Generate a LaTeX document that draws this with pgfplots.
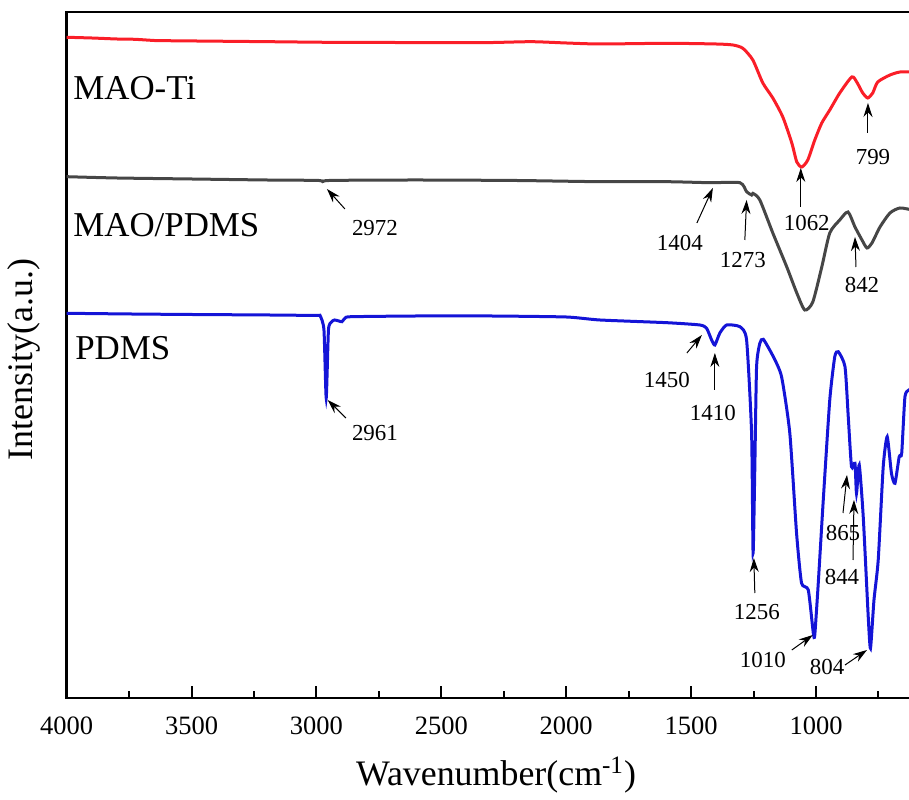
\documentclass[border=0pt]{standalone}
\usepackage{fontspec}
\setmainfont{Liberation Serif}
\usepackage{pgfplots}
\usepackage{pgfplotstable}
\pgfplotsset{compat=1.18}
\usetikzlibrary{arrows.meta}
\definecolor{cred}{RGB}{250,30,40}
\definecolor{cgray}{RGB}{70,70,70}
\definecolor{cblue}{RGB}{20,20,215}

\pgfplotstableread{
w y
4000 762.7
3900 762
3800 761
3728 760.7
3650 759.5
3606 759.3
3400 758.8
3190 758.3
2958 757.7
2700 757.5
2342 757.3
2141 758.3
2000 757
1865 756
1597 756.7
1400 756
1333 755
1293 751.7
1253 740
1213 717
1173 702
1133 683
1097 657
1077 638
1057 633
1033 640
1005 660
977 677
945 690
905 707
857 723
837 718
813 707
793 702
773 707
753 718
704 725
664 728
615 728
}\maoti

\pgfplotstableread{
w y
4000 623.3
3800 622
3500 621
3200 620
2990 619.5
2972 617.3
2950 619.5
2600 620
2200 619.5
1865 618.3
1597 618.3
1425 617.3
1305 617.3
1278 608.3
1258 605
1253 606.7
1225 600
1173 567
1117 533
1077 507
1045 490
1013 498
977 533
945 567
905 580
872 588
844 573
816 560
796 552
776 557
744 573
704 587
664 592
615 590
}\maopdms

\pgfplotstableread{
w y
4000 486.7
3743 486
3500 485.5
3190 485
3000 484.5
2985 484
2970 470
2961 402
2952 470
2940 478
2928 480
2910 479
2898 478.3
2885 482
2860 483.3
2600 484
2300 484
2000 483
1865 480
1597 477.3
1465 475
1438 471.7
1418 460
1405 455
1385 467
1358 475
1305 473.3
1278 460
1258 367
1252 247
1245 333
1238 433.3
1225 456.7
1211 460.7
1171 443.3
1138 423.3
1105 367
1078 267
1058 217
1031 210
1011 167
1005 165
991 217
971 300
945 400
925 443.3
911 448.3
884 433.3
871 383.3
858 333.3
844 336.7
838 306.7
827 335
811 283.3
791 183.3
782 151.7
768 200
751 240
731 333.3
715 363.3
698 326.7
684 316.7
667 343.3
657 346.7
644 403.3
628 410
615 412
}\pdms

\begin{document}
\begin{tikzpicture}
\begin{axis}[name=ax, anchor=south west, at={(0,0)},
  scale only axis, width=422.75bp, height=342.85bp,
  x dir=reverse, xmin=615, xmax=4000, ymin=102, ymax=787.7,
  ytick=\empty,
  xtick={1000,1500,2000,2500,3000,3500,4000},
  minor xtick={750,1250,1750,2250,2750,3250,3750},
  xtick pos=lower, tick align=inside,
  major tick length=6bp, minor tick length=3.3bp,
  every tick/.style={black, line width=1bp},
  axis line style={line width=1.2bp, black},
  /pgf/number format/assume math mode=true,
  /pgf/number format/1000 sep={},
  xticklabel style={font=\fontsize{13.3}{16}\selectfont, yshift=-6bp},
  clip=true,
]
\addplot[cred, line width=1.5bp, smooth, tension=0.4] table[x=w,y=y] {\maoti};
\addplot[cgray, line width=1.5bp, smooth, tension=0.4] table[x=w,y=y] {\maopdms};
\addplot[cblue, line width=1.5bp, smooth, tension=0.35] table[x=w,y=y] {\pdms};

\begin{scope}[font=\fontsize{17.5}{20}\selectfont]
\node[anchor=base west, inner sep=0] at (axis cs:3975,700) {MAO-Ti};
\node[anchor=base west, inner sep=0] at (axis cs:3975,563) {MAO/PDMS};
\node[anchor=base west, inner sep=0] at (axis cs:3967,440) {PDMS};
\end{scope}

\begin{scope}[font=\fontsize{11.5}{13}\selectfont, inner sep=0]
\node at (axis cs:2766,572) {2972};
\node at (axis cs:2766,367) {2961};
\node at (axis cs:1545,557) {1404};
\node at (axis cs:1293,540) {1273};
\node at (axis cs:1037,577) {1062};
\node at (axis cs:772,643) {799};
\node at (axis cs:816,515) {842};
\node at (axis cs:1597,420) {1450};
\node at (axis cs:1413,387) {1410};
\node at (axis cs:1237,188) {1256};
\node at (axis cs:892,267) {865};
\node at (axis cs:896,223) {844};
\node at (axis cs:1213,140) {1010};
\node at (axis cs:956,133) {804};
\end{scope}

\begin{scope}[black, line width=0.5bp, -{Stealth[length=7bp, width=4.5bp]}]
\draw (axis cs:2886,591) -- (axis cs:2958,611);
\draw (axis cs:2882,382) -- (axis cs:2955,400);
\draw (axis cs:1477,577) -- (axis cs:1413,612);
\draw (axis cs:1285,560) -- (axis cs:1278,600);
\draw (axis cs:1061,593) -- (axis cs:1061,632);
\draw (axis cs:792,667) -- (axis cs:792,697);
\draw (axis cs:840,533) -- (axis cs:844,563);
\draw (axis cs:1517,447) -- (axis cs:1457,465);
\draw (axis cs:1405,410) -- (axis cs:1405,447);
\draw (axis cs:1245,207) -- (axis cs:1249,242);
\draw (axis cs:892,287) -- (axis cs:876,325);
\draw (axis cs:852,240) -- (axis cs:848,300);
\draw (axis cs:1097,150) -- (axis cs:1013,165);
\draw (axis cs:884,135) -- (axis cs:796,150);
\end{scope}
\end{axis}
\node[font=\fontsize{18}{20}\selectfont] at ([shift={(214.65bp,-38.5bp)}]ax.south west) {Wavenumber(cm\textsuperscript{-1})};
\node[font=\fontsize{18}{20}\selectfont, rotate=90] at ([shift={(-21.35bp,169.25bp)}]ax.south west) {Intensity(a.u.)};
\pgfresetboundingbox
\path[use as bounding box] ([shift={(-33.35bp,-51bp)}]ax.south west) rectangle ++(454.5bp,400bp);
\end{tikzpicture}
\end{document}
